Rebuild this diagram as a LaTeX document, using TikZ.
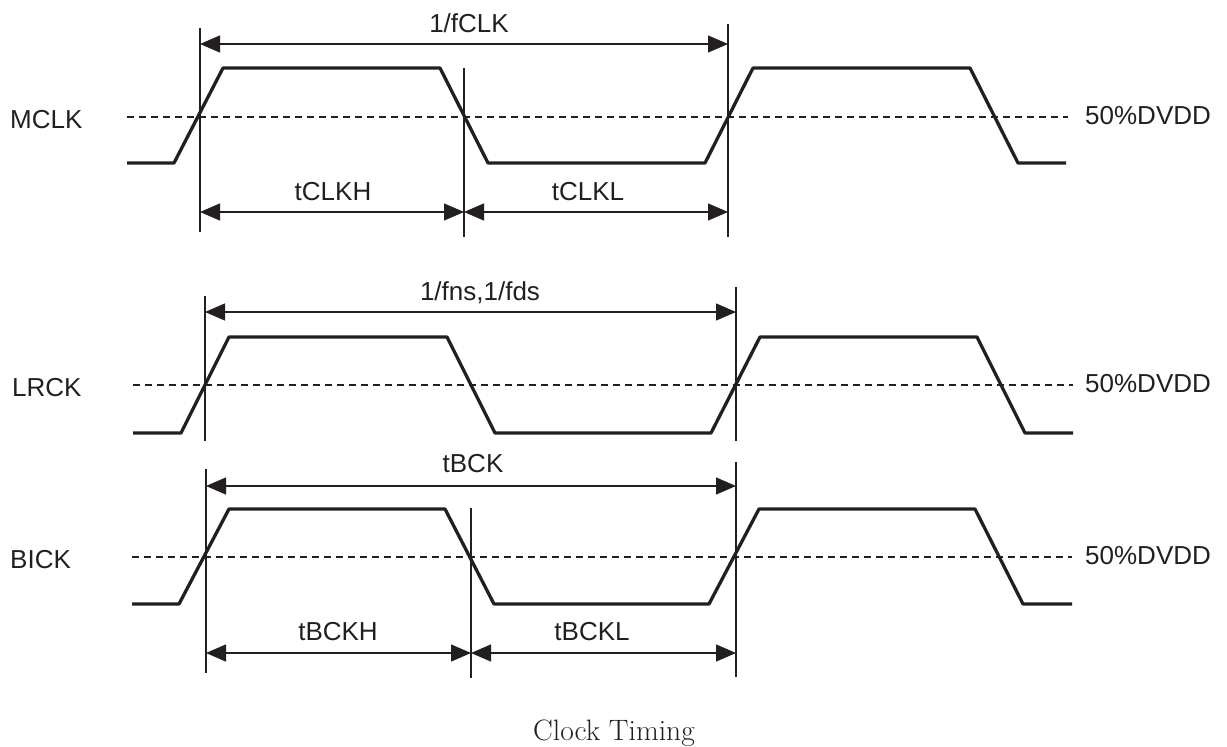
\documentclass[tikz,border=0pt]{standalone}
\usepackage{fontspec}
\newfontfamily\arialf{Liberation Sans}
\usetikzlibrary{arrows.meta}
\definecolor{ink}{RGB}{35,31,32}
\begin{document}
\begin{tikzpicture}[x=1pt,y=-1pt,
  sig/.style={line width=3.3pt, draw=ink, line join=round},
  vline/.style={line width=1.3pt, draw=ink},
  midline/.style={line width=1.3pt, draw=ink, dash pattern=on 7pt off 5pt},
  dimline/.style={line width=1.3pt, draw=ink, {Triangle[length=20pt,width=17pt]}-{Triangle[length=20pt,width=17pt]}},
  lbl/.style={font=\arialf\fontsize{26}{30}\selectfont, text=ink, inner sep=0pt, anchor=base},
  sname/.style={lbl, anchor=base west},
  captxt/.style={font=\fontsize{29.5}{34}\selectfont, text=ink, inner sep=0pt, anchor=base}]
\useasboundingbox (0,0) rectangle (1227,747);

% ---------------- MCLK ----------------
\node[sname] (mclk) at (10,128) {MCLK};
\node[sname] (mdv) at (1085,124) {50\%DVDD};
\coordinate (mdA) at (127,117); \coordinate (mdB) at (1068,117);
\draw[midline] (mdA) -- (mdB);
\draw[sig] (127,163) -- (174,163) -- (223,68) -- (440,68) -- (488,163) -- (705,163) -- (753,68) -- (970,68) -- (1018,163) -- (1066,163);
\coordinate (mv1t) at (200,28);  \coordinate (mv1b) at (200,232);
\coordinate (mv2t) at (464,68);  \coordinate (mv2b) at (464,237);
\coordinate (mv3t) at (728,24);  \coordinate (mv3b) at (728,237);
\draw[vline] (mv1t) -- (mv1b);
\draw[vline] (mv2t) -- (mv2b);
\draw[vline] (mv3t) -- (mv3b);
\coordinate (ma1) at (200,44); \coordinate (ma3) at (728,44);
\draw[dimline] (ma1) -- (ma3);
\coordinate (mb1) at (200,212); \coordinate (mb2) at (464,212); \coordinate (mb3) at (728,212);
\draw[dimline] (mb1) -- (mb2);
\draw[dimline] (mb2) -- (mb3);
\node[lbl] (lfclk) at (469,32) {1/fCLK};
\node[lbl] (ltclkh) at (333,200) {tCLKH};
\node[lbl] (ltclkl) at (588,200) {tCLKL};

% ---------------- LRCK ----------------
\node[sname] (lrck) at (12,396) {LRCK};
\node[sname] (ldv) at (1085,392) {50\%DVDD};
\coordinate (ldA) at (133,385); \coordinate (ldB) at (1073,385);
\draw[midline] (ldA) -- (ldB);
\draw[sig] (133,433) -- (181,433) -- (229,337) -- (447,337) -- (495,433) -- (711,433) -- (760,337) -- (977,337) -- (1025,433) -- (1073,433);
\coordinate (lv1t) at (205,296); \coordinate (lv1b) at (205,441);
\coordinate (lv3t) at (736,287); \coordinate (lv3b) at (736,441);
\draw[vline] (lv1t) -- (lv1b);
\draw[vline] (lv3t) -- (lv3b);
\coordinate (la1) at (205,312); \coordinate (la3) at (736,312);
\draw[dimline] (la1) -- (la3);
\node[lbl] (lfns) at (480,300) {1/fns,1/fds};

% ---------------- BICK ----------------
\node[sname] (bick) at (10,568) {BICK};
\node[sname] (bdv) at (1085,564) {50\%DVDD};
\coordinate (bdA) at (132,557); \coordinate (bdB) at (1072,557);
\draw[midline] (bdA) -- (bdB);
\draw[sig] (132,604) -- (179,604) -- (229,509) -- (445,509) -- (494,604) -- (709,604) -- (759,509) -- (975,509) -- (1023,604) -- (1072,604);
\coordinate (bv1t) at (206,469); \coordinate (bv1b) at (206,673);
\coordinate (bv2t) at (471,508); \coordinate (bv2b) at (471,678);
\coordinate (bv3t) at (736,462); \coordinate (bv3b) at (736,677);
\draw[vline] (bv1t) -- (bv1b);
\draw[vline] (bv2t) -- (bv2b);
\draw[vline] (bv3t) -- (bv3b);
\coordinate (ba1) at (206,486); \coordinate (ba3) at (736,486);
\draw[dimline] (ba1) -- (ba3);
\coordinate (bb1) at (206,653); \coordinate (bb2) at (471,653); \coordinate (bb3) at (736,653);
\draw[dimline] (bb1) -- (bb2);
\draw[dimline] (bb2) -- (bb3);
\node[lbl] (ltbck) at (473,472) {tBCK};
\node[lbl] (ltbckh) at (338,640) {tBCKH};
\node[lbl] (ltbckl) at (592,640) {tBCKL};

% ---------------- caption ----------------
\node[captxt] (caption) at (614,740) {Clock Timing};
\end{tikzpicture}
\end{document}
